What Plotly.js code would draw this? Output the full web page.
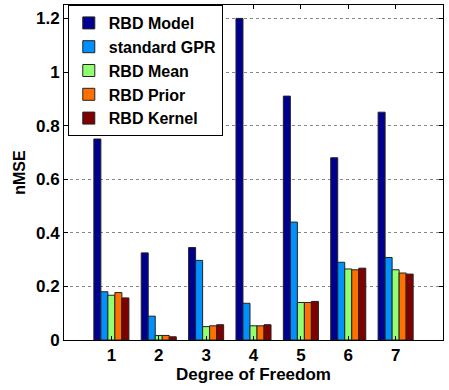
<!DOCTYPE html>
<html>
<head>
<meta charset="utf-8">
<script src="https://cdn.plot.ly/plotly-3.0.1.min.js"></script>
<style>html,body{margin:0;padding:0;background:#fff;}#chart{width:449px;height:390px;}</style>
</head>
<body>
<div id="chart"></div>
<script>
const categories = [1, 2, 3, 4, 5, 6, 7];
const seriesNames = ["RBD Model", "standard GPR", "RBD Mean", "RBD Prior", "RBD Kernel"];
const rbdModel = [0.75, 0.325, 0.345, 1.2, 0.91, 0.68, 0.85];
const standardGPR = [0.18, 0.089, 0.297, 0.137, 0.44, 0.29, 0.308];
const rbdMean = [0.167, 0.017, 0.05, 0.053, 0.14, 0.265, 0.262];
const rbdPrior = [0.177, 0.017, 0.053, 0.053, 0.14, 0.262, 0.25];
const rbdKernel = [0.157, 0.012, 0.057, 0.057, 0.144, 0.268, 0.246];
const colors = ["#000090", "#0090ff", "#90ff70", "#ff7000", "#800000"];
const values = [rbdModel, standardGPR, rbdMean, rbdPrior, rbdKernel];

const traces = values.map((v, i) => ({
  type: "bar",
  name: seriesNames[i],
  x: categories,
  y: v,
  marker: {color: colors[i], line: {color: "#222", width: 1}}
}));

const font = {family: "Liberation Sans, Arial, sans-serif", color: "#000", weight: "bold"};
const layout = {
  width: 449, height: 390,
  margin: {l: 64, r: 6, t: 5, b: 50},
  paper_bgcolor: "#fff", plot_bgcolor: "#fff",
  barmode: "group", bargap: 0.26, bargroupgap: 0,
  showlegend: true,
  legend: {
    x: 0.01, y: 1, xanchor: "left", yanchor: "top",
    bgcolor: "#fff", bordercolor: "#000", borderwidth: 1,
    font: Object.assign({}, font, {size: 16}),
    tracegroupgap: 0, itemwidth: 30
  },
  xaxis: {
    range: [0, 8], tickvals: categories, ticktext: categories.map(String),
    ticks: "inside", ticklen: 4, tickcolor: "#000",
    showline: true, linecolor: "#000", linewidth: 1, mirror: "ticks",
    showgrid: false, zeroline: false,
    tickfont: Object.assign({}, font, {size: 17}),
    title: {text: "Degree of Freedom", font: Object.assign({}, font, {size: 17}), standoff: 0}
  },
  yaxis: {
    range: [0, 1.25], tickvals: [0, 0.2, 0.4, 0.6, 0.8, 1, 1.2],
    ticktext: ["0", "0.2", "0.4", "0.6", "0.8", "1", "1.2"],
    ticks: "inside", ticklen: 4, tickcolor: "#000",
    showline: true, linecolor: "#000", linewidth: 1, mirror: "ticks",
    showgrid: true, gridcolor: "#888", griddash: "dot", gridwidth: 1,
    zeroline: false,
    tickfont: Object.assign({}, font, {size: 17}),
    title: {text: "nMSE", font: Object.assign({}, font, {size: 16}), standoff: 6}
  }
};
Plotly.newPlot("chart", traces, layout, {displayModeBar: false, staticPlot: true});
</script>
</body>
</html>
